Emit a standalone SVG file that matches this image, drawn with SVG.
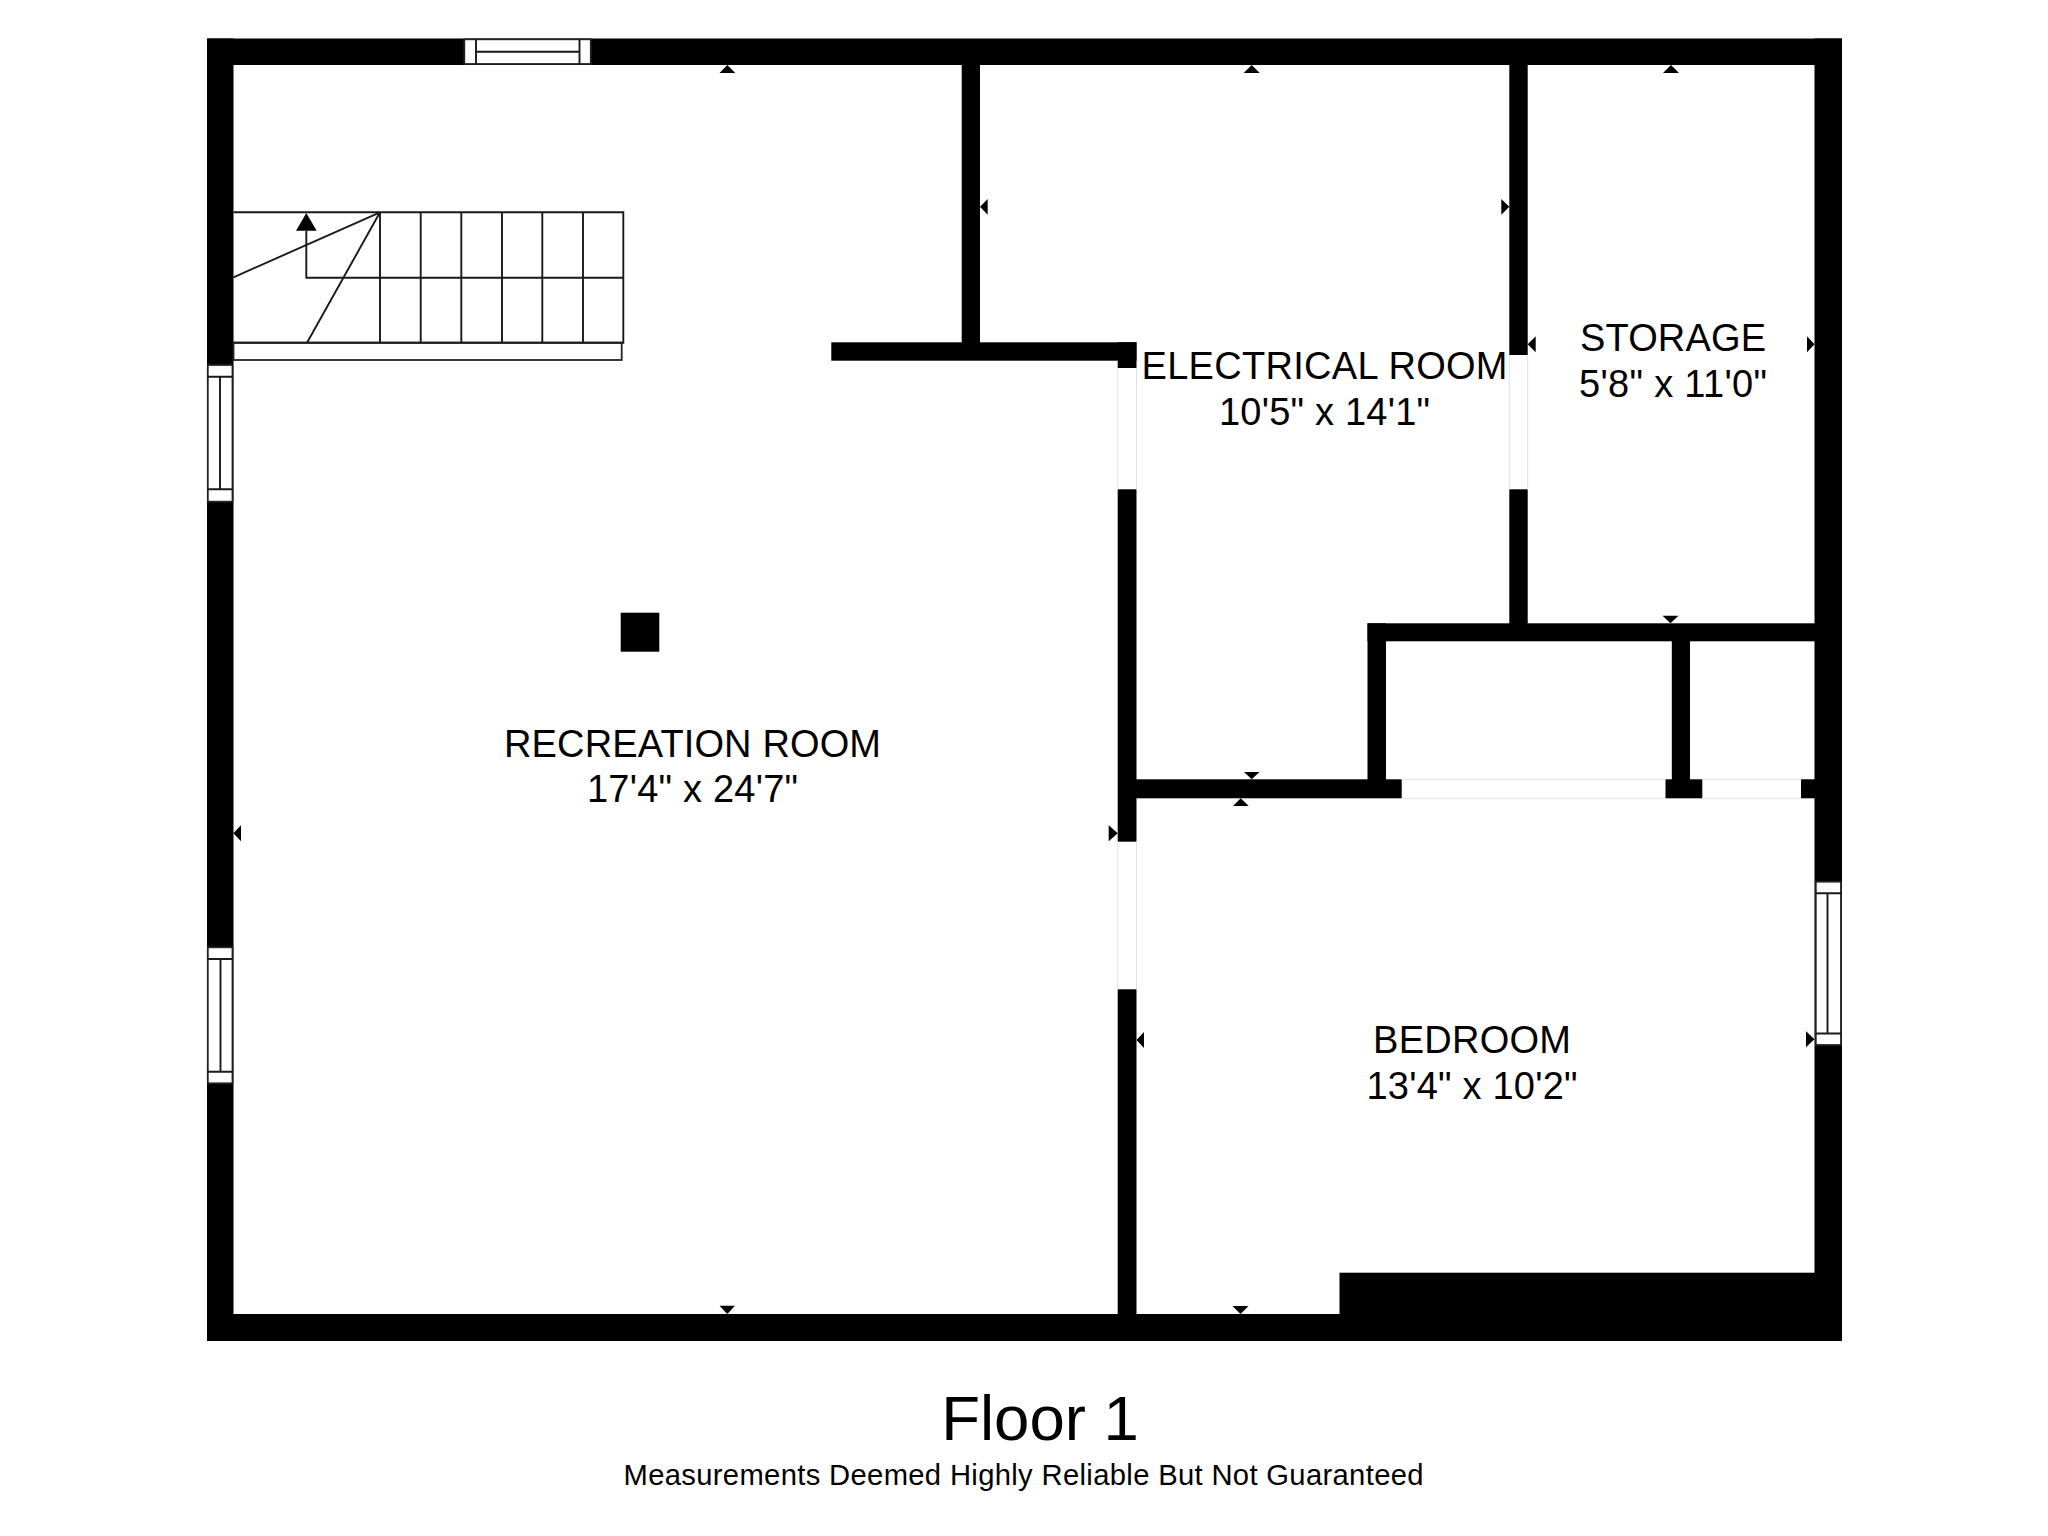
<svg xmlns="http://www.w3.org/2000/svg" width="2048" height="1536" viewBox="0 0 2048 1536">
<style>
.wall{fill:#000}
.edge{stroke:#e2e2e2;stroke-width:1;fill:none}
.win{fill:#fff;stroke:#222;stroke-width:1.8}
.ln{stroke:#1a1a1a;stroke-width:1.9;fill:none}
.mark{fill:#000}
text{font-family:"Liberation Sans",Arial,Helvetica,sans-serif;fill:#000;text-anchor:middle}
.room{font-size:38px}
.title{font-size:63.5px}
.note{font-size:29.2px}
</style>
<rect width="2048" height="1536" fill="#fff"/>
<g id="walls" class="wall">
<rect x="207" y="38.5" width="1635" height="26.5"/>
<rect x="207" y="38.5" width="26.5" height="1302.5"/>
<rect x="1814.5" y="38.5" width="27.5" height="1302.5"/>
<rect x="207" y="1314" width="1635" height="27"/>
<rect x="1339.5" y="1272.7" width="502.5" height="68.3"/>
<rect x="961.7" y="65" width="18.3" height="280"/>
<rect x="831.3" y="342.3" width="305.2" height="18.4"/>
<rect x="1117.7" y="342.3" width="18.8" height="25.7"/>
<rect x="1117.7" y="489.3" width="18.8" height="352.4"/>
<rect x="1117.7" y="989.3" width="18.8" height="351.7"/>
<rect x="1136" y="779.3" width="265.7" height="19"/>
<rect x="1665.5" y="779.3" width="36.8" height="19"/>
<rect x="1801" y="779.3" width="15" height="19"/>
<rect x="1367.5" y="623.3" width="448" height="18"/>
<rect x="1367.5" y="623.3" width="18.5" height="157"/>
<rect x="1671.8" y="640" width="18.2" height="140"/>
<rect x="1509.3" y="65" width="18.4" height="290"/>
<rect x="1509.3" y="489.3" width="18.4" height="135"/>
<rect id="column" x="620.7" y="612.7" width="38.6" height="39"/>
</g>
<g id="door-openings" class="edge">
<path d="M1117.7 368V489.3M1136.5 368V489.3"/>
<path d="M1117.7 841.7V989.3M1136.5 841.7V989.3"/>
<path d="M1509.3 355V489.3M1527.7 355V489.3"/>
<path d="M1401.7 779.3H1665.5M1401.7 798.3H1665.5"/>
<path d="M1702.3 779.3H1801M1702.3 798.3H1801"/>
</g>
<g id="windows">
<g id="window-top">
<rect class="win" x="464.3" y="39.3" width="126.5" height="24.7"/>
<path class="ln" d="M476 39.3V64M579.5 39.3V64M476 51.7H579.5"/>
</g>
<g id="window-left-1">
<rect class="win" x="207.8" y="365" width="24.7" height="136.7"/>
<path class="ln" d="M207.8 376.7H232.5M207.8 489.3H232.5M220 376.7V489.3"/>
</g>
<g id="window-left-2">
<rect class="win" x="207.8" y="947.3" width="24.7" height="136"/>
<path class="ln" d="M207.8 959H232.5M207.8 1071.7H232.5M220.5 959V1071.7"/>
</g>
<g id="window-right">
<rect class="win" x="1815.8" y="881.7" width="25.2" height="163.3"/>
<path class="ln" d="M1815.8 893.3H1841M1815.8 1033.5H1841M1827.5 893.3V1033.5"/>
</g>
</g>
<g id="stairs">
<rect class="win" x="233.5" y="342.7" width="388.2" height="17.3"/>
<path class="ln" d="M233.5 212.3H623.3V342.7H233.5"/>
<path class="ln" d="M380 212.3V342.7M420.7 212.3V342.7M461.3 212.3V342.7M502 212.3V342.7M542.3 212.3V342.7M583 212.3V342.7"/>
<path class="ln" d="M306.3 231V277.7H623.3"/>
<path class="ln" d="M380 212.3L233.5 277.3M380 212.3L307 342.7"/>
<polygon class="mark" points="306.3,213 316.7,230.7 296,230.7"/>
</g>
<g id="markers" class="mark">
<polygon points="727.3,65 735.3,73 719.5,73"/>
<polygon points="1251.7,65 1259.7,73 1243.7,73"/>
<polygon points="1671,65 1679,73 1663,73"/>
<polygon points="980,206.7 987.7,199 987.7,214.7"/>
<polygon points="1509.3,206.7 1501.3,199 1501.3,214.7"/>
<polygon points="1527.7,344.3 1535.7,336.3 1535.7,352.3"/>
<polygon points="1814.5,344.3 1807,336.3 1807,352.3"/>
<polygon points="1670.5,623.3 1662.5,615.7 1678.5,615.7"/>
<polygon points="1251.7,779.3 1244,772 1259.5,772"/>
<polygon points="1240.7,798.3 1248.7,806 1233,806"/>
<polygon points="233.3,833.3 241,825.3 241,841.3"/>
<polygon points="1117.7,833.3 1108.7,825.3 1108.7,841.3"/>
<polygon points="1136.5,1040 1144,1032 1144,1048"/>
<polygon points="1814.5,1039.3 1806,1031.3 1806,1047.3"/>
<polygon points="727.3,1314 719.5,1305.7 735,1305.7"/>
<polygon points="1240.5,1314 1232.5,1306 1248.5,1306"/>
</g>
<g id="room-recreation"><text class="room" x="692.5" y="756.7" textLength="377">RECREATION ROOM</text><text class="room" x="692.5" y="802" textLength="211">17'4" x 24'7"</text></g>
<g id="room-electrical"><text class="room" x="1324.5" y="378.7" textLength="366">ELECTRICAL ROOM</text><text class="room" x="1324.5" y="425" textLength="211">10'5" x 14'1"</text></g>
<g id="room-storage"><text class="room" x="1673" y="351" textLength="186">STORAGE</text><text class="room" x="1673" y="396.7" textLength="188">5'8" x 11'0"</text></g>
<g id="room-bedroom"><text class="room" x="1472" y="1053.3" textLength="198">BEDROOM</text><text class="room" x="1472" y="1099.3" textLength="211">13'4" x 10'2"</text></g>
<g id="caption"><text class="title" x="1040" y="1440">Floor 1</text><text class="note" x="1023.5" y="1485" textLength="800">Measurements Deemed Highly Reliable But Not Guaranteed</text></g>
</svg>
